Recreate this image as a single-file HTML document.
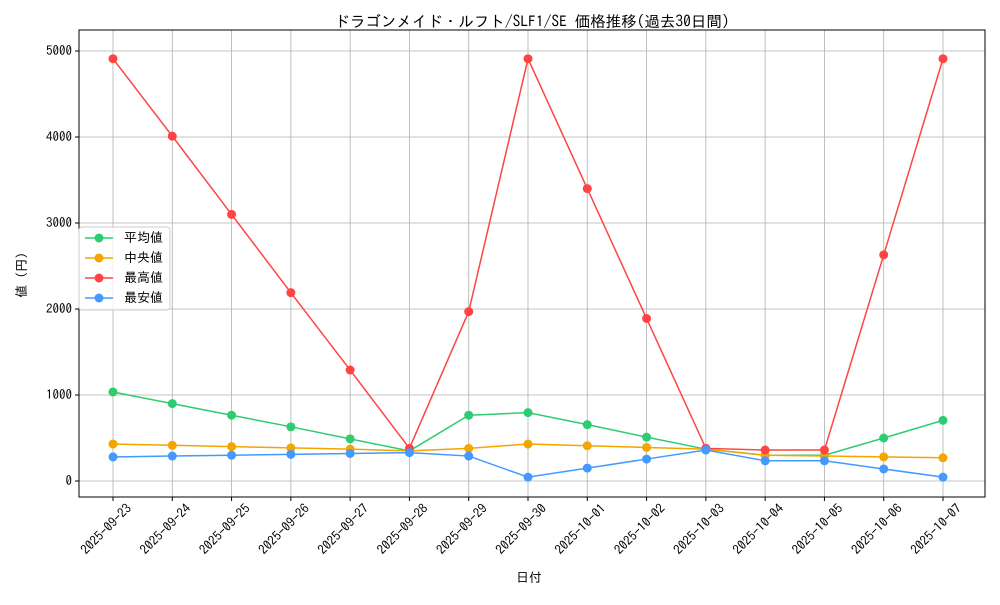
<!DOCTYPE html>
<html><head><meta charset="utf-8"><style>
body{margin:0;background:#fff;}
svg text{font-family:"IPAGothic","Liberation Sans","Noto Sans CJK JP",sans-serif;font-size:13px;fill:#000;}
</style></head><body>
<svg id="s" width="1000" height="600" xmlns="http://www.w3.org/2000/svg"></svg>
<script>
const s=document.getElementById('s');
const L=79,R=985,T=30,B=497;
const X=i=>113+i*(943-113)/14, Y=v=>481-v*0.086;
const dates=["2025-09-23","2025-09-24","2025-09-25","2025-09-26","2025-09-27","2025-09-28","2025-09-29","2025-09-30","2025-10-01","2025-10-02","2025-10-03","2025-10-04","2025-10-05","2025-10-06","2025-10-07"];
const series=[
["平均値","#2ecc71",[1035,900,765,630,490,350,765,795,655,510,370,300,300,500,705]],
["中央値","#f5a500",[430,415,400,385,370,350,380,430,410,390,370,300,290,280,270]],
["最高値","#ff4444",[4910,4010,3100,2190,1290,380,1970,4910,3400,1890,380,360,360,2630,4910]],
["最安値","#4499ff",[280,290,300,310,320,330,290,45,150,255,360,235,235,140,45]]];
let h='';
h+=`<text x="532" y="27" text-anchor="middle" style="font-size:15.5px">ドラゴンメイド・ルフト/SLF1/SE 価格推移(過去30日間)</text>`;
dates.forEach((d,i)=>{const x=X(i);h+=`<line x1="${x}" y1="${T}" x2="${x}" y2="${B}" stroke="#b0b0b0" stroke-width="0.8"/><line x1="${x}" y1="${B}" x2="${x}" y2="${B+4}" stroke="#000"/><text transform="translate(${x+13},${B+6}) rotate(-45)" text-anchor="end" dominant-baseline="hanging">${d}</text>`;});
for(let v=0;v<=5000;v+=1000){const y=Y(v);h+=`<line x1="${L}" y1="${y}" x2="${R}" y2="${y}" stroke="#b0b0b0" stroke-width="0.8"/><line x1="${L-4}" y1="${y}" x2="${L}" y2="${y}" stroke="#000"/><text x="${L-7}" y="${y+4}" text-anchor="end">${v}</text>`;}
h+=`<rect x="${L}" y="${T}" width="${R-L}" height="${B-T}" fill="none" stroke="#000"/>`;
h+=`<text x="529" y="582" text-anchor="middle">日付</text>`;
h+=`<text transform="translate(26,275) rotate(-90)" text-anchor="middle">値 (円)</text>`;
series.forEach(([n,c,d])=>{h+=`<polyline fill="none" stroke="${c}" stroke-width="1.5" points="${d.map((v,i)=>X(i)+','+Y(v)).join(' ')}"/>`;d.forEach((v,i)=>h+=`<circle cx="${X(i)}" cy="${Y(v)}" r="4.5" fill="${c}"/>`);});
h+=`<rect x="79" y="227" width="91" height="83" rx="3" fill="#fff" fill-opacity="0.8" stroke="#ccc"/>`;
series.forEach(([n,c],k)=>{const y=238+k*20;h+=`<line x1="85" y1="${y}" x2="113" y2="${y}" stroke="${c}" stroke-width="1.5"/><circle cx="99" cy="${y}" r="4.5" fill="${c}"/><text x="124" y="${y+4}">${n}</text>`;});
s.innerHTML=h;
</script>
</body></html>
